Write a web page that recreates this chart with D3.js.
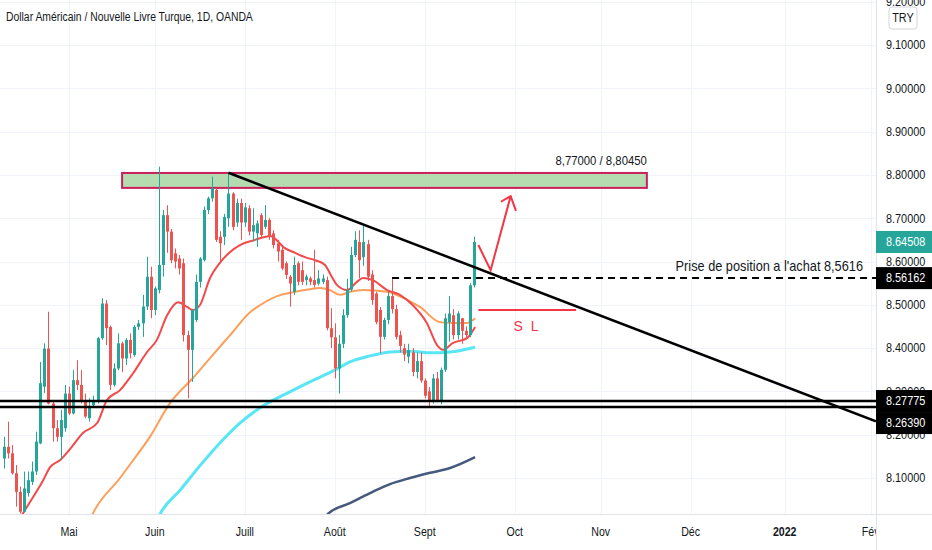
<!DOCTYPE html>
<html>
<head>
<meta charset="utf-8">
<script src="https://cdn.jsdelivr.net/npm/d3@7"></script>
<style>
  body { margin: 0; background: #fff; }
  svg { display: block; font-family: "Liberation Sans", Arial, sans-serif; }
</style>
</head>
<body>
<svg id="chart"></svg>
<script>
// first bar of the series, the next bars are trading days (Mon-Fri)
const startDate = "2021-04-09";
const monthLabels = ["Mai", "Juin", "Juill", "Août", "Sept", "Oct", "Nov", "Déc", "2022", "Fév"];
const priceTicks = [8.1, 8.2, 8.3, 8.4, 8.5, 8.6, 8.7, 8.8, 8.9, 9.0, 9.1, 9.2];

// daily candles [open, high, low, close]
const candles = [
  [8.145, 8.195, 8.122, 8.172], [8.172, 8.230, 8.145, 8.157], [8.157, 8.176, 8.108, 8.111], [8.111, 8.130, 8.034, 8.068],
  [8.068, 8.080, 8.018, 8.022], [8.022, 8.115, 8.020, 8.076], [8.065, 8.115, 8.057, 8.095], [8.091, 8.138, 8.084, 8.115],
  [8.115, 8.207, 8.107, 8.184], [8.180, 8.368, 8.178, 8.319], [8.311, 8.411, 8.296, 8.399], [8.399, 8.484, 8.270, 8.272],
  [8.272, 8.280, 8.184, 8.215], [8.215, 8.234, 8.184, 8.195], [8.195, 8.257, 8.141, 8.234], [8.215, 8.315, 8.207, 8.295],
  [8.295, 8.311, 8.245, 8.249], [8.249, 8.349, 8.247, 8.326], [8.326, 8.372, 8.303, 8.315], [8.315, 8.349, 8.272, 8.276],
  [8.280, 8.295, 8.238, 8.242], [8.238, 8.284, 8.230, 8.265], [8.268, 8.290, 8.262, 8.280], [8.280, 8.426, 8.272, 8.423],
  [8.423, 8.515, 8.419, 8.503], [8.503, 8.511, 8.407, 8.446], [8.449, 8.452, 8.303, 8.315], [8.315, 8.365, 8.311, 8.353],
  [8.353, 8.434, 8.349, 8.411], [8.411, 8.415, 8.345, 8.376], [8.376, 8.423, 8.361, 8.419], [8.419, 8.434, 8.376, 8.388],
  [8.384, 8.453, 8.380, 8.449], [8.449, 8.465, 8.442, 8.457], [8.457, 8.523, 8.426, 8.496], [8.496, 8.611, 8.488, 8.565],
  [8.565, 8.588, 8.469, 8.488], [8.488, 8.542, 8.476, 8.538], [8.534, 8.819, 8.526, 8.592], [8.592, 8.719, 8.565, 8.707],
  [8.707, 8.730, 8.620, 8.669], [8.669, 8.675, 8.596, 8.603], [8.619, 8.630, 8.584, 8.600], [8.607, 8.615, 8.570, 8.584],
  [8.596, 8.607, 8.415, 8.430], [8.430, 8.440, 8.284, 8.396], [8.396, 8.490, 8.322, 8.488], [8.465, 8.570, 8.460, 8.553],
  [8.553, 8.610, 8.540, 8.607], [8.603, 8.727, 8.600, 8.719], [8.719, 8.750, 8.710, 8.746], [8.746, 8.796, 8.738, 8.769],
  [8.765, 8.769, 8.645, 8.650], [8.657, 8.670, 8.596, 8.642], [8.657, 8.710, 8.638, 8.703], [8.700, 8.805, 8.680, 8.757],
  [8.757, 8.760, 8.672, 8.680], [8.690, 8.745, 8.680, 8.735], [8.735, 8.745, 8.650, 8.690], [8.690, 8.735, 8.680, 8.725],
  [8.723, 8.730, 8.660, 8.669], [8.669, 8.723, 8.646, 8.684], [8.665, 8.695, 8.634, 8.688], [8.707, 8.712, 8.655, 8.661],
  [8.680, 8.730, 8.675, 8.696], [8.696, 8.700, 8.650, 8.657], [8.665, 8.672, 8.630, 8.638], [8.642, 8.650, 8.600, 8.623],
  [8.627, 8.635, 8.580, 8.584], [8.596, 8.600, 8.560, 8.569], [8.565, 8.569, 8.496, 8.549], [8.530, 8.611, 8.523, 8.592],
  [8.596, 8.600, 8.545, 8.553], [8.580, 8.600, 8.546, 8.553], [8.557, 8.570, 8.545, 8.565], [8.561, 8.565, 8.545, 8.553],
  [8.557, 8.627, 8.540, 8.546], [8.549, 8.580, 8.545, 8.561], [8.553, 8.570, 8.548, 8.561], [8.557, 8.565, 8.441, 8.446],
  [8.446, 8.492, 8.400, 8.425], [8.425, 8.457, 8.330, 8.353], [8.353, 8.430, 8.295, 8.410], [8.410, 8.490, 8.400, 8.476],
  [8.476, 8.560, 8.470, 8.535], [8.535, 8.634, 8.530, 8.615], [8.615, 8.670, 8.610, 8.650], [8.645, 8.672, 8.561, 8.603],
  [8.610, 8.683, 8.590, 8.645], [8.640, 8.650, 8.555, 8.565], [8.570, 8.580, 8.500, 8.511], [8.526, 8.530, 8.455, 8.460],
  [8.488, 8.495, 8.388, 8.426], [8.426, 8.470, 8.420, 8.465], [8.465, 8.530, 8.455, 8.520], [8.520, 8.561, 8.480, 8.490],
  [8.490, 8.500, 8.420, 8.426], [8.430, 8.440, 8.390, 8.405], [8.400, 8.410, 8.370, 8.385], [8.380, 8.410, 8.365, 8.395],
  [8.390, 8.400, 8.335, 8.345], [8.345, 8.390, 8.330, 8.370], [8.370, 8.390, 8.320, 8.325], [8.325, 8.330, 8.284, 8.290],
  [8.300, 8.310, 8.265, 8.278], [8.278, 8.340, 8.272, 8.330], [8.330, 8.345, 8.275, 8.280], [8.278, 8.355, 8.270, 8.350],
  [8.350, 8.480, 8.345, 8.469], [8.460, 8.520, 8.415, 8.480], [8.476, 8.490, 8.420, 8.430], [8.430, 8.485, 8.420, 8.480],
  [8.469, 8.470, 8.410, 8.440], [8.440, 8.450, 8.420, 8.430], [8.430, 8.550, 8.425, 8.545], [8.545, 8.657, 8.540, 8.645]
];

// moving averages, [bar index, price]
const maFast = [[3, 7.99], [4.8, 8.019], [9.7, 8.095], [11.4, 8.125], [13.8, 8.141], [16.7, 8.172], [19.4, 8.204], [22.9, 8.227],
  [25.3, 8.28], [28.5, 8.303], [31.7, 8.342], [35.1, 8.391], [37.5, 8.419], [40, 8.476], [42.7, 8.506], [44.9, 8.495],
  [46.3, 8.488], [48, 8.499], [50.5, 8.562], [52.9, 8.597], [55.4, 8.622], [57.8, 8.638], [61.5, 8.65], [65.2, 8.659],
  [68.8, 8.631], [71.3, 8.62], [73.7, 8.61], [76.2, 8.603], [78.6, 8.592], [80.3, 8.564], [81.5, 8.546], [84, 8.534],
  [86.4, 8.553], [87.9, 8.562], [90.3, 8.557], [93.8, 8.534], [96.9, 8.523], [100.1, 8.499], [103.5, 8.458], [106, 8.407],
  [107.5, 8.396], [109.9, 8.412], [113.3, 8.423], [115.3, 8.449]];
const maMid = [[20.5, 7.99], [21.9, 8.019], [28.5, 8.1], [31.7, 8.141], [35.8, 8.195], [40.7, 8.273], [46.3, 8.331], [50.5, 8.377],
  [55.4, 8.43], [60.3, 8.483], [62.7, 8.499], [66.9, 8.52], [70.8, 8.529], [74.9, 8.536], [77.4, 8.539], [79.8, 8.534],
  [82.3, 8.523], [84.7, 8.53], [87.9, 8.534], [93.8, 8.53], [97.7, 8.516], [101.8, 8.495], [106.7, 8.46], [110, 8.458],
  [113.3, 8.458], [115.3, 8.469]];
const maSlow = [[37, 7.99], [38.3, 8.017], [43.2, 8.072], [48, 8.128], [52.9, 8.181], [57.8, 8.227], [63.9, 8.269], [70, 8.299],
  [74.9, 8.322], [81, 8.349], [84.7, 8.368], [89.6, 8.382], [94.5, 8.391], [99.4, 8.393], [104.3, 8.389], [109.2, 8.391],
  [115.3, 8.402]];
const maLong = [[78, 7.995], [79.3, 8.017], [84.7, 8.042], [89.6, 8.065], [94.5, 8.086], [99.4, 8.1], [104.3, 8.112],
  [109.2, 8.123], [115.3, 8.148]];

// drawings on the chart
const zone = {from: 29, to: 157.3, low: 8.77, high: 8.8045, label: "8,77000 / 8,80450"};
const trendLine = [[55, 8.805], [213.3, 8.231]];
const supportLevels = [8.27775, 8.26390];
const entry = {from: 95, price: 8.56162, label: "Prise de position a l'achat 8,5616"};
const stopLoss = {from: 116.1, to: 140, price: 8.488, label: "S L", labelBar: 128, labelPrice: 8.44};
const arrowPath = [[116.1, 8.638], [119.1, 8.580], [124.0, 8.751]];
const arrowHead = [[121.6, 8.738], [124.0, 8.751], [125.3, 8.717]];
const lastPrice = 8.64508;

// squeeze a text horizontally, the chart font is a condensed one
function narrow(sel, k) {
    sel.each(function() {
        let w = this.getComputedTextLength();
        d3.select(this).attr('textLength', w * k).attr('lengthAdjust', 'spacingAndGlyphs');
    });
}

class CandleChart {
    constructor(_config) {
        this.config = {
            parentElement: _config.parentElement,
            containerWidth: 932,
            containerHeight: 550,
            plotWidth: 876,
            plotHeight: 514
        }
        this.initVis();
    }

    initVis() {
        let vis = this;
        const c = vis.config;

        vis.svg = d3.select(c.parentElement)
            .attr('width', c.containerWidth)
            .attr('height', c.containerHeight);

        // trading days from the first bar, run on into the empty future area
        vis.days = [];
        let d = new Date(startDate + "T00:00:00Z");
        while (vis.days.length < 216) {
            let wd = d.getUTCDay();
            if (wd !== 0 && wd !== 6) vis.days.push(new Date(d));
            d.setUTCDate(d.getUTCDate() + 1);
        }

        // one bar is ~4.09px wide
        vis.x = d3.scaleLinear().domain([0, 212]).range([3.5, 870.6]);
        vis.y = d3.scaleLinear().domain([8.0, 9.2]).range([521.3, 1.7]);

        vis.svg.append('defs').append('clipPath').attr('id', 'plot-clip')
            .append('rect').attr('width', c.plotWidth).attr('height', c.plotHeight);
        vis.svg.select('defs').append('clipPath').attr('id', 'time-clip')
            .append('rect').attr('width', c.plotWidth).attr('height', c.containerHeight);

        vis.plot = vis.svg.append('g').attr('clip-path', 'url(#plot-clip)');
    }

    renderVis() {
        let vis = this;
        const c = vis.config;
        const x = vis.x, y = vis.y;

        // month ticks = first trading day of each month
        let monthTicks = [];
        vis.days.forEach((d, i) => {
            if (i > 0 && d.getUTCMonth() !== vis.days[i - 1].getUTCMonth()) monthTicks.push(i);
        });
        monthTicks = monthTicks.slice(0, monthLabels.length);

        // grid
        vis.plot.append('g').selectAll('line.h').data(priceTicks).join('line')
            .attr('x1', 0).attr('x2', c.plotWidth)
            .attr('y1', d => Math.round(y(d)) + 0.5).attr('y2', d => Math.round(y(d)) + 0.5)
            .attr('stroke', '#f0f3fa');
        vis.plot.append('g').selectAll('line.v').data(monthTicks).join('line')
            .attr('y1', 0).attr('y2', c.plotHeight)
            .attr('x1', d => Math.round(x(d)) + 0.5).attr('x2', d => Math.round(x(d)) + 0.5)
            .attr('stroke', '#f0f3fa');

        // target zone
        vis.plot.append('rect')
            .attr('x', x(zone.from)).attr('width', x(zone.to) - x(zone.from))
            .attr('y', y(zone.high)).attr('height', y(zone.low) - y(zone.high))
            .attr('fill', '#b5dbb1').attr('stroke', '#c8205a').attr('stroke-width', 2);

        // moving averages
        const line = d3.line().x(d => x(d[0])).y(d => y(d[1])).curve(d3.curveMonotoneX);
        [[maLong, '#44597c', 2.5], [maSlow, '#58e6f4', 3], [maMid, '#fb9f5a', 2], [maFast, '#f24a4a', 2]]
            .forEach(([data, color, w]) => {
                vis.plot.append('path').datum(data).attr('d', line)
                    .attr('fill', 'none').attr('stroke', color).attr('stroke-width', w);
            });

        // candles
        const bars = vis.plot.append('g').selectAll('g').data(candles).join('g')
            .attr('fill', d => d[3] >= d[0] ? '#26a69a' : '#ef5350')
            .attr('stroke', d => d[3] >= d[0] ? '#26a69a' : '#ef5350');
        bars.append('line')
            .attr('x1', (d, i) => Math.round(x(i)) + 0.5).attr('x2', (d, i) => Math.round(x(i)) + 0.5)
            .attr('y1', d => y(d[1])).attr('y2', d => y(d[2]))
            .attr('stroke-width', 1);
        bars.append('rect')
            .attr('x', (d, i) => Math.round(x(i)) - 1)
            .attr('width', 3)
            .attr('y', d => y(Math.max(d[0], d[3])))
            .attr('height', d => Math.max(1, Math.abs(y(d[0]) - y(d[3]))))
            .attr('stroke', 'none');

        // horizontal levels
        vis.plot.append('g').selectAll('line').data(supportLevels).join('line')
            .attr('x1', 0).attr('x2', c.plotWidth)
            .attr('y1', d => y(d)).attr('y2', d => y(d))
            .attr('stroke', '#000').attr('stroke-width', 2.5);

        // trend line
        vis.plot.append('line')
            .attr('x1', x(trendLine[0][0])).attr('y1', y(trendLine[0][1]))
            .attr('x2', x(trendLine[1][0])).attr('y2', y(trendLine[1][1]))
            .attr('stroke', '#000').attr('stroke-width', 2.5);

        // entry dashed line + label
        vis.plot.append('line')
            .attr('x1', x(entry.from)).attr('x2', c.plotWidth)
            .attr('y1', y(entry.price)).attr('y2', y(entry.price))
            .attr('stroke', '#000').attr('stroke-width', 2).attr('stroke-dasharray', '7,5');
        vis.plot.append('text')
            .attr('x', c.plotWidth - 13).attr('y', y(entry.price) - 7)
            .attr('text-anchor', 'end').attr('font-size', 15).attr('fill', '#131722')
            .text(entry.label)
            .call(narrow, 0.85);

        // zone label
        vis.plot.append('text')
            .attr('x', x(zone.to)).attr('y', y(zone.high) - 8)
            .attr('text-anchor', 'end').attr('font-size', 13.5).attr('fill', '#131722')
            .text(zone.label)
            .call(narrow, 0.84);

        // stop loss
        vis.plot.append('line')
            .attr('x1', x(stopLoss.from)).attr('x2', x(stopLoss.to))
            .attr('y1', y(stopLoss.price)).attr('y2', y(stopLoss.price))
            .attr('stroke', '#f23645').attr('stroke-width', 2);
        vis.plot.append('text')
            .attr('x', x(stopLoss.labelBar)).attr('y', y(stopLoss.labelPrice))
            .attr('text-anchor', 'middle').attr('font-size', 14).attr('letter-spacing', 2)
            .attr('fill', '#f23645')
            .text(stopLoss.label);

        // arrow
        const straight = d3.line().x(d => x(d[0])).y(d => y(d[1]));
        [arrowPath, arrowHead].forEach(p => {
            vis.plot.append('path').attr('d', straight(p))
                .attr('fill', 'none').attr('stroke', '#f23645').attr('stroke-width', 2)
                .attr('stroke-linejoin', 'miter');
        });

        // title
        vis.svg.append('text')
            .attr('x', 6).attr('y', 17).attr('dy', '0.35em')
            .attr('font-size', 12.5).attr('fill', '#131722')
            .text('Dollar Américain / Nouvelle Livre Turque, 1D, OANDA')
            .call(narrow, 0.83);

        // axes separators
        vis.svg.append('line')
            .attr('x1', 0).attr('x2', c.containerWidth)
            .attr('y1', c.plotHeight + 0.5).attr('y2', c.plotHeight + 0.5)
            .attr('stroke', '#e0e3eb');
        vis.svg.append('line')
            .attr('x1', c.plotWidth + 0.5).attr('x2', c.plotWidth + 0.5)
            .attr('y1', 0).attr('y2', c.containerHeight)
            .attr('stroke', '#e0e3eb');

        // time axis
        vis.svg.append('g').attr('clip-path', 'url(#time-clip)')
            .selectAll('text').data(monthTicks).join('text')
            .attr('x', d => x(d)).attr('y', 532).attr('dy', '0.35em')
            .attr('text-anchor', 'middle').attr('font-size', 12.5).attr('fill', '#131722')
            .attr('font-weight', (d, i) => monthLabels[i] === '2022' ? 'bold' : 'normal')
            .text((d, i) => monthLabels[i])
            .call(narrow, 0.85);

        // price axis
        vis.svg.append('g').selectAll('text').data(priceTicks).join('text')
            .attr('x', 886).attr('y', d => y(d)).attr('dy', '0.35em')
            .attr('font-size', 12.5).attr('fill', '#131722')
            .text(d => d.toFixed(5))
            .call(narrow, 0.87);

        // currency badge
        vis.svg.append('rect')
            .attr('x', 889).attr('y', 7).attr('width', 28).attr('height', 22).attr('rx', 3)
            .attr('fill', '#fff').attr('stroke', '#d1d4dc');
        vis.svg.append('text')
            .attr('x', 903).attr('y', 18).attr('dy', '0.35em')
            .attr('text-anchor', 'middle').attr('font-size', 12.5).attr('fill', '#131722')
            .text('TRY')
            .call(narrow, 0.87);

        // price labels, pushed apart when they overlap
        let labels = [
            {price: lastPrice, color: '#26a69a'},
            {price: entry.price, color: '#000'},
            {price: supportLevels[0], color: '#000'},
            {price: supportLevels[1], color: '#000'}
        ].map(l => ({...l, cy: y(l.price)})).sort((a, b) => a.cy - b.cy);
        const h = 22;
        labels.forEach((l, i) => {
            if (i > 0 && l.cy < labels[i - 1].cy + h) l.cy = labels[i - 1].cy + h;
        });
        const tag = vis.svg.append('g').selectAll('g').data(labels).join('g');
        tag.append('rect')
            .attr('x', c.plotWidth).attr('width', 56)
            .attr('y', d => d.cy - h / 2).attr('height', h)
            .attr('fill', d => d.color);
        tag.append('text')
            .attr('x', 886).attr('y', d => d.cy).attr('dy', '0.35em')
            .attr('font-size', 12.5).attr('fill', '#fff')
            .text(d => d.price.toFixed(5))
            .call(narrow, 0.87);
    }
}

let chart = new CandleChart({parentElement: '#chart'});
chart.renderVis();
</script>
</body>
</html>
